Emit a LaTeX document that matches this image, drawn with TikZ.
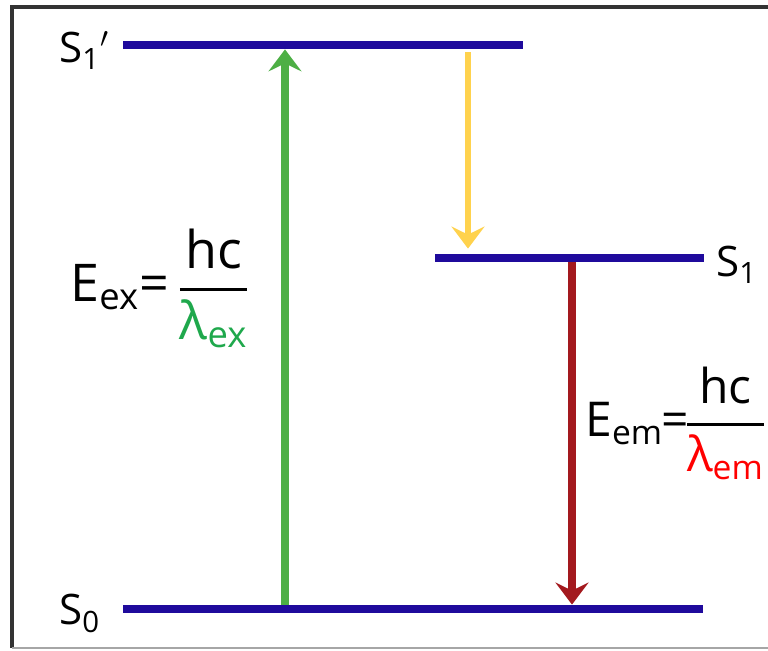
\documentclass[tikz,border=0pt]{standalone}
\usepackage{amsmath}
\usepackage{fontspec}
\setmainfont{Open Sans}
\definecolor{lvlblue}{HTML}{1F0A9C}
\definecolor{exgreen}{HTML}{4DAF45}
\definecolor{lamgreen}{HTML}{1FA84C}
\definecolor{emred}{HTML}{A3191E}
\definecolor{relyellow}{HTML}{FFD24D}
\definecolor{framegray}{HTML}{333333}
\usetikzlibrary{arrows.meta,positioning}

\begin{document}
\begin{tikzpicture}[
  x=0.5pt, y=0.5pt,
  every node/.style={font=\fontsize{21}{24}\selectfont, inner sep=0pt},
  level/.style={fill=lvlblue, minimum height=4pt, inner sep=0pt},
  eqn/.style={font=\fontsize{26}{30}\selectfont, anchor=base west},
  trans/.style={line width=4pt,
                -{Stealth[length=11pt, width=16.5pt, inset=4pt]}}
]
\useasboundingbox (0,0) rectangle (768,651);

%% Frame (open on the right)
\draw[framegray, line width=1.8pt] (768,644) -- (12,644) -- (12,3);
\draw[gray!70, line width=1pt] (12,3) -- (768,3);

%% Energy levels
\node[level, minimum width=200pt]   (s1p) at (323,606)   {};
\node[level, minimum width=134.5pt] (s1)  at (569.5,393) {};
\node[level, minimum width=290pt]   (s0)  at (413,42)    {};

%% Level labels
\node[anchor=base west] (s1plab) at (59,588) {S\textsubscript{1}$'$};
\node[anchor=base west] (s1lab)  at (716,374) {S\textsubscript{1}};
\node[anchor=base west] (s0lab)  at (59,26)  {S\textsubscript{0}};

%% Arrow positions
\coordinate (exx)  at (285,0);
\coordinate (relx) at (468,0);
\coordinate (emx)  at (572,0);

%% Transitions
\draw[trans, exgreen] (exx |- s0.north) -- (exx |- s1p.south);
\draw[trans, relyellow, line width=3pt, shorten <=1.5pt, shorten >=2.5pt]
  (relx |- s1p.south) -- (relx |- s1.north);
\draw[trans, emred] (emx |- s1.south) -- (emx |- s0.north);

%% Energies
\node[eqn] (eex) at (70,349)
  {E\textsubscript{ex}=\,$\genfrac{}{}{1.5pt}{0}{\text{hc}}
   {\textcolor{lamgreen}{\text{λ\textsubscript{ex}}}}$};
\node[eqn, font=\fontsize{24}{28}\selectfont] (eem) at (585,214)
  {E\textsubscript{em}\hspace{-1pt}=\hspace{-2pt}$\genfrac{}{}{1.5pt}{0}{\text{hc}}
   {\textcolor{red}{\text{λ\textsubscript{em}}}}$};

\end{tikzpicture}
\end{document}
